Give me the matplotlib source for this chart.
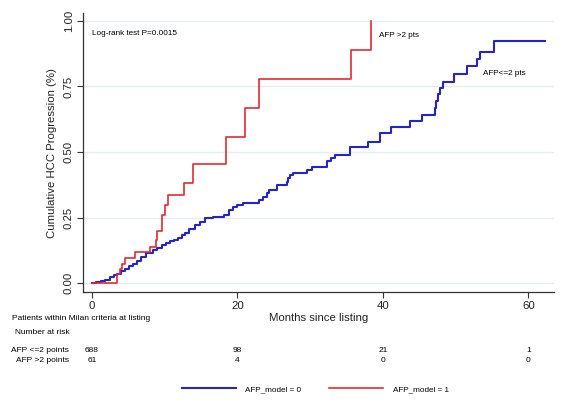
import matplotlib
matplotlib.use("Agg")
import matplotlib.pyplot as plt
import matplotlib.transforms as mtransforms
import numpy as np

plt.rcParams['font.family'] = ['Liberation Sans', 'DejaVu Sans']

# cumulative progression, AFP <= 2 points (step times in months, value after step)
low_t = [0.0, 0.6, 1.2, 1.8, 2.5, 3.0, 3.5, 4.0, 4.5, 5.1, 5.7, 6.2, 6.8, 7.5, 8.4,
         9.0, 9.6, 10.2, 10.7, 11.3, 11.9, 12.4, 12.8, 13.3, 14.2, 14.8, 15.5, 16.7,
         18.1, 18.8, 19.4, 19.9, 20.8, 22.9, 23.5, 24.0, 24.4, 25.4, 26.8, 27.0, 27.2,
         27.7, 29.5, 30.2, 32.3, 32.8, 33.4, 35.5, 37.9, 39.6, 41.1, 43.7, 45.4, 47.1,
         47.3, 47.6, 47.9, 48.2, 49.8, 51.6, 53.0, 53.3, 55.3, 62.3]
low_v = [0.0, 0.005, 0.009, 0.014, 0.022, 0.030, 0.037, 0.046, 0.056, 0.065, 0.075,
         0.086, 0.100, 0.115, 0.126, 0.135, 0.145, 0.152, 0.160, 0.165, 0.172, 0.182,
         0.192, 0.205, 0.221, 0.233, 0.247, 0.253, 0.260, 0.281, 0.290, 0.298, 0.304,
         0.319, 0.330, 0.345, 0.357, 0.374, 0.387, 0.400, 0.412, 0.421, 0.431, 0.444,
         0.467, 0.478, 0.489, 0.518, 0.537, 0.574, 0.594, 0.620, 0.642, 0.667, 0.695,
         0.720, 0.745, 0.768, 0.798, 0.828, 0.856, 0.883, 0.922, 0.922]

# cumulative progression, AFP > 2 points
high_t = [0.0, 3.5, 3.8, 4.1, 4.5, 5.9, 8.0, 8.8, 9.0, 9.7, 10.1, 10.4, 12.7, 13.9,
          18.4, 21.0, 22.9, 35.6, 38.3]
high_v = [0.0, 0.035, 0.055, 0.075, 0.095, 0.120, 0.140, 0.165, 0.200, 0.260, 0.300,
          0.336, 0.383, 0.453, 0.558, 0.667, 0.778, 0.889, 1.0]

risk_times = [0, 20, 40, 60]
risk_low = [688, 98, 21, 1]
risk_high = [61, 4, 0, 0]
row_labels = ['AFP <=2 points', 'AFP >2 points']

blue = '#2424cc'
red = '#e62a2e'
small = 6.0

fig = plt.figure(figsize=(5.68, 4.18), dpi=100)
ax = fig.add_axes([0.146, 0.301, 0.829, 0.668])

ax.step(low_t, low_v, where='post', color=blue, lw=1.5, label='AFP_model = 0')
ax.step(high_t, high_v, where='post', color=red, lw=1.2, label='AFP_model = 1')

ax.set_xlim(-1.24, 63.5)
ax.set_ylim(-0.034, 1.03)
ax.set_xticks(risk_times)
ax.set_yticks([0, 0.25, 0.5, 0.75, 1.0])
ax.set_yticklabels(['0.00', '0.25', '0.50', '0.75', '1.00'], rotation=90, va='center')
ax.tick_params(labelsize=8.2, length=4, width=0.8, color='#333333', labelcolor='#222222')
ax.tick_params(axis='x', pad=2.5)
ax.tick_params(axis='y', pad=2.5)
ax.grid(axis='y', color='#e6edf0', lw=1.0)
ax.set_axisbelow(True)
for s in ['top', 'right']:
    ax.spines[s].set_visible(False)
for s in ['left', 'bottom']:
    ax.spines[s].set_color('#333333')
    ax.spines[s].set_linewidth(0.9)

ax.set_ylabel('Cumulative HCC Progression (%)', fontsize=8.2, color='#222222')
ax.yaxis.set_label_coords(-0.056, 0.5)
ax.set_xlabel('Months since listing', fontsize=8.2, labelpad=1, color='#222222')

ax.text(0.0, 0.95, 'Log-rank test P=0.0015', fontsize=5.9, va='center')
ax.text(39.5, 0.945, 'AFP >2 pts', fontsize=5.9, va='center')
ax.text(53.7, 0.80, 'AFP<=2 pts', fontsize=5.9, va='center')

# number-at-risk table below the axes
trans = mtransforms.blended_transform_factory(ax.transData, fig.transFigure)
fig.text(12 / 568, 1 - 318 / 418, 'Patients within Milan criteria at listing',
         fontsize=small, va='center')
fig.text(15 / 568, 1 - 333 / 418, 'Number at risk', fontsize=small, va='center')
for row, (lab, vals) in enumerate(zip(row_labels, [risk_low, risk_high])):
    y = 1 - (350 + row * 10.5) / 418
    fig.text(69 / 568, y, lab, fontsize=small, va='center', ha='right')
    for t, n in zip(risk_times, vals):
        ax.text(t, y, str(n), fontsize=small, va='center', ha='center',
                transform=trans, clip_on=False)

fig.legend(loc='center', bbox_to_anchor=(315 / 568, 1 - 389 / 418), ncol=2, frameon=False,
           fontsize=5.9, handlelength=6.6, columnspacing=3.3, handletextpad=1.2)

fig.savefig('out.png', dpi=100)
